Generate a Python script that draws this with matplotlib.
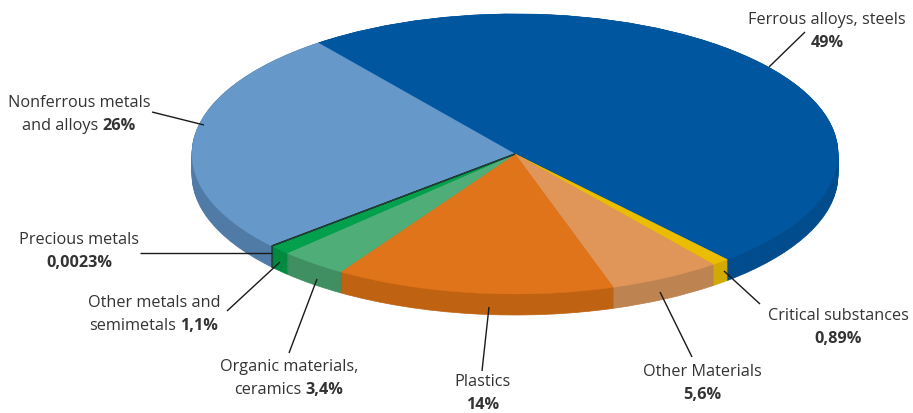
import matplotlib
matplotlib.use("Agg")
import matplotlib.pyplot as plt

plt.rcParams['font.family'] = ['Open Sans', 'DejaVu Sans']

W, H = 913, 414
names = ["Ferrous alloys, steels", "Critical substances", "Other Materials", "Plastics",
         "Organic materials, ceramics", "Other metals and semimetals", "Precious metals",
         "Nonferrous metals and alloys"]
values = [49, 0.89, 5.6, 14, 3.4, 1.1, 0.0023, 26]
top_colors = ["#00569f", "#ebbd00", "#e09559", "#e0741a", "#4fae78", "#00a04c", "#00a04c", "#6699c9"]
side_colors = ["#004c8c", "#d2a900", "#bd8350", "#bf6212", "#3f8f62", "#008a40", "#008a40", "#507ba6"]

CX, CY, RX, RY, DEPTH = 515, 155, 323, 140, 21
START = 127.5
INK = "#333333"
FS = 11.7
GAP = 22.5
DY = 1.5

labels = [
    ("Ferrous alloys, steels", "49%", 827, 19, (805, 33), (769, 68)),
    ("Critical substances", "0,89%", 838, 315, (760, 305), (724, 272)),
    ("Other Materials", "5,6%", 702, 371, (692, 358), (660, 293)),
    ("Plastics", "14%", 483, 381, (482, 372), (489, 308)),
    ("Organic materials,", "ceramics 3,4%", 289, 366, (289, 354), (317, 280)),
    ("Other metals and", "semimetals 1,1%", 154, 302, (227, 312), (280, 263)),
    ("Precious metals", "0,0023%", 79, 239, (140, 254), (272, 254)),
    ("Nonferrous metals", "and alloys 26%", 79, 102, (152, 113), (204, 126)),
]

fig = plt.figure(figsize=(W / 100, H / 100), dpi=100, facecolor="white")
ax = fig.add_axes([0, 0, 1, 1])

depth = DEPTH / RY
PREC = values.index(0.0023)
for i in range(DEPTH + 1):
    off = depth * (1 - i / DEPTH)
    ws, _ = ax.pie(values, colors=side_colors, startangle=START, counterclock=False,
                   radius=1, center=(0, -off), normalize=True)
    for k, w in enumerate(ws):
        w.set_edgecolor("#1f3f35" if k == PREC else w.get_facecolor())
        w.set_linewidth(0.9 if k == PREC else 0.5)
        w.set_zorder(1 + i * 0.01 + (0.005 if k == PREC else 0))
wedges, _ = ax.pie(values, colors=top_colors, startangle=START, counterclock=False,
                   radius=1, center=(0, 0), normalize=True)
for k, w in enumerate(wedges):
    w.set_edgecolor("#1f3f35" if k == PREC else w.get_facecolor())
    w.set_linewidth(1.0 if k == PREC else 0.3)
    w.set_zorder(2.1 if k == PREC else 2)
ax.set_aspect('auto')
ax.set_xlim((0 - CX) / RX, (W - CX) / RX)
ax.set_ylim((CY - H) / RY, (CY - 0) / RY)
ax.set_frame_on(False)
ax.set_xticks([]); ax.set_yticks([])

ov = fig.add_axes([0, 0, 1, 1], facecolor="none")
ov.set_xlim(0, W); ov.set_ylim(H, 0); ov.axis("off")
for first, second, x, y, p0, p1 in labels:
    y = y + DY
    ov.plot([p0[0], p1[0]], [p0[1], p1[1]], color="#1a1a1a", lw=1.0, solid_capstyle="butt")
    ov.text(x, y, first, ha="center", va="center", fontsize=FS, color=INK)
    if " " in second:
        head, val = second.rsplit(" ", 1)
        t = ov.text(0, y + GAP, head, ha="left", va="center", fontsize=FS, color=INK)
        t2 = ov.text(0, y + GAP, val, ha="left", va="center", fontsize=FS, fontweight="bold", color=INK)
        fig.canvas.draw()
        w1 = t.get_window_extent().width
        w2 = t2.get_window_extent().width
        space = 4
        left = x - (w1 + space + w2) / 2
        t.set_x(left)
        t2.set_x(left + w1 + space)
    else:
        ov.text(x, y + GAP, second, ha="center", va="center", fontsize=FS, fontweight="bold", color=INK)

fig.savefig("out.png", dpi=100)
